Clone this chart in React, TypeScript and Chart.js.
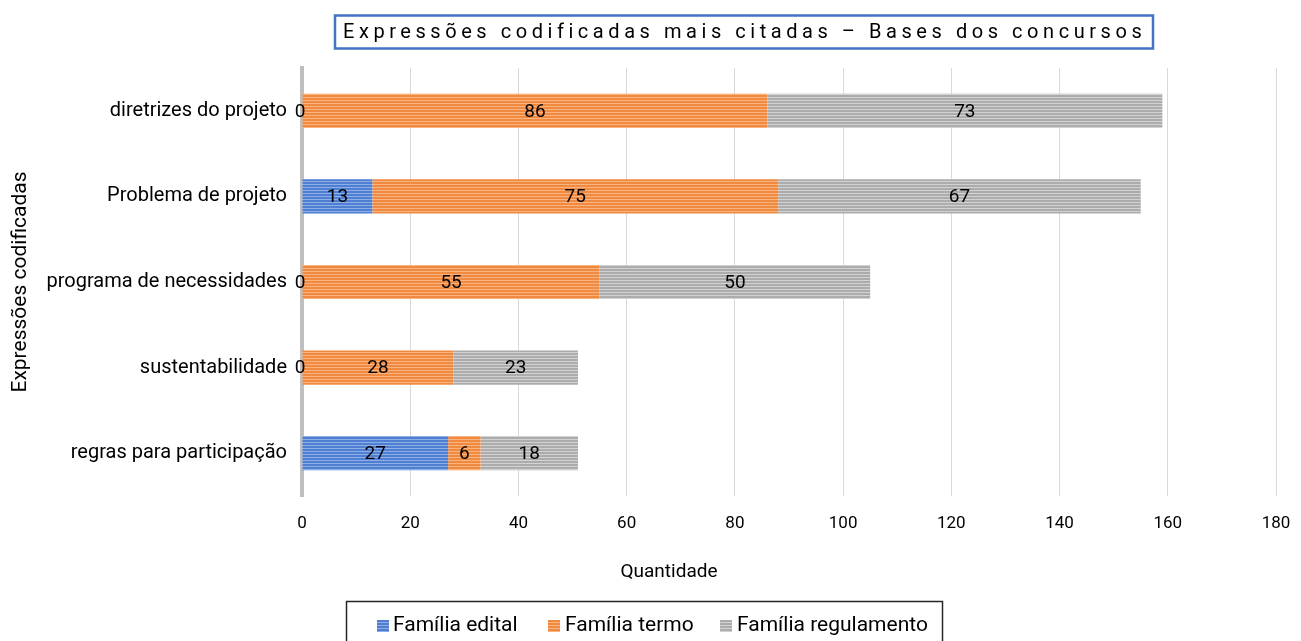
import React, { useEffect, useRef } from "react";
import { Chart, registerables } from "chart.js";

Chart.register(...registerables);

const categories = [
  "diretrizes do projeto",
  "Problema de projeto",
  "programa de necessidades",
  "sustentabilidade",
  "regras para participação",
];
const familiaEdital = [0, 13, 0, 0, 27];
const familiaTermo = [86, 75, 55, 28, 6];
const familiaRegulamento = [73, 67, 50, 23, 18];
const seriesNames = ["Família edital", "Família termo", "Família regulamento"];
const xTicks = [0, 20, 40, 60, 80, 100, 120, 140, 160, 180];

const chartTitle = "Expressões codificadas mais citadas – Bases dos concursos";
const xTitle = "Quantidade";
const yTitle = "Expressões codificadas";

const baseColors = ["#4f7fd3", "#f08a40", "#acacac"];
const lightColors = ["#8eaee6", "#f8b37f", "#d2d2d2"];

function makePattern(base: string, light: string): CanvasPattern | string {
  const c = document.createElement("canvas");
  c.width = 4;
  c.height = 3;
  const ctx = c.getContext("2d");
  if (!ctx) return base;
  ctx.fillStyle = base;
  ctx.fillRect(0, 0, 4, 3);
  ctx.fillStyle = light;
  ctx.fillRect(0, 1, 4, 1);
  const p = ctx.createPattern(c, "repeat");
  return p || base;
}

const FONT = "Roboto, 'Noto Sans', sans-serif";

const decorPlugin = {
  id: "decor",
  afterDatasetsDraw(chart: any) {
    const ctx = chart.ctx as CanvasRenderingContext2D;
    ctx.save();
    ctx.font = `19px ${FONT}`;
    ctx.fillStyle = "#000";
    ctx.textAlign = "center";
    ctx.textBaseline = "middle";
    chart.data.datasets.forEach((ds: any, di: number) => {
      const meta = chart.getDatasetMeta(di);
      meta.data.forEach((bar: any, i: number) => {
        const v = ds.data[i];
        const cx = v === 0 ? bar.base - 2 : (bar.x + bar.base) / 2;
        ctx.fillText(String(v), cx, bar.y + 1);
      });
    });
    ctx.restore();
  },
  afterDraw(chart: any) {
    const ctx = chart.ctx as CanvasRenderingContext2D;
    const area = chart.chartArea;
    ctx.save();
    // title box
    ctx.strokeStyle = "#4472c4";
    ctx.lineWidth = 2.5;
    ctx.strokeRect(335, 15.5, 818, 33);
    ctx.font = `20px ${FONT}`;
    ctx.fillStyle = "#000";
    ctx.textBaseline = "middle";
    ctx.textAlign = "left";
    (ctx as any).letterSpacing = "0px";
    const w0 = ctx.measureText(chartTitle).width;
    const n = Array.from(chartTitle).length;
    const target = 798;
    const sp = Math.max(0, (target - w0) / (n - 1));
    (ctx as any).letterSpacing = `${sp}px`;
    ctx.fillText(chartTitle, 343, 32.5);
    (ctx as any).letterSpacing = "0px";

    // axis titles
    ctx.font = `19px ${FONT}`;
    ctx.textAlign = "center";
    ctx.fillText(xTitle, 669, 572);
    ctx.save();
    ctx.font = `21px ${FONT}`;
    ctx.translate(21, (area.top + area.bottom) / 2);
    ctx.rotate(-Math.PI / 2);
    ctx.fillText(yTitle, 0, 0);
    ctx.restore();

    // legend box
    ctx.strokeStyle = "#262626";
    ctx.lineWidth = 1.5;
    ctx.strokeRect(346.5, 601.5, 596, 50);
    const sq = [377, 548, 720];
    const tx = [393, 565, 737];
    ctx.font = `21px ${FONT}`;
    ctx.textAlign = "left";
    chart.data.datasets.forEach((ds: any, i: number) => {
      ctx.fillStyle = ds.backgroundColor;
      ctx.fillRect(sq[i], 620, 12, 12);
      ctx.fillStyle = "#000";
      ctx.fillText(ds.label, tx[i], 626);
    });
    ctx.restore();
  },
};

export default function App() {
  const ref = useRef<HTMLCanvasElement | null>(null);
  useEffect(() => {
    if (!ref.current) return;
    const data = [familiaEdital, familiaTermo, familiaRegulamento];
    const chart = new Chart(ref.current, {
      type: "bar",
      data: {
        labels: categories,
        datasets: data.map((d, i) => ({
          label: seriesNames[i],
          data: d,
          backgroundColor: makePattern(baseColors[i], lightColors[i]) as any,
          borderWidth: 0,
          barPercentage: 0.4,
          categoryPercentage: 1,
        })),
      },
      options: {
        indexAxis: "y",
        animation: false,
        responsive: false,
        maintainAspectRatio: false,
        layout: { padding: { left: 0, right: 25, top: 68, bottom: 0 } },
        plugins: {
          legend: { display: false },
          title: { display: false },
          tooltip: { enabled: false },
        },
        scales: {
          x: {
            stacked: true,
            min: 0,
            max: 180,
            afterFit(scale: any) {
              scale.height = 145;
              scale.paddingLeft = 0;
              scale.paddingRight = 0;
            },
            afterBuildTicks(scale: any) {
              scale.ticks = xTicks.map((v) => ({ value: v }));
            },
            grid: { color: "#d9d9d9", lineWidth: 1, drawTicks: false },
            border: { display: false },
            ticks: {
              font: { family: FONT, size: 17 },
              color: "#000",
              padding: 18,
            },
          },
          y: {
            stacked: true,
            afterFit(scale: any) {
              scale.width = 302;
              scale.paddingTop = 0;
              scale.paddingBottom = 0;
            },
            grid: { display: false, drawTicks: false },
            border: { display: true, color: "#bfbfbf", width: 4 },
            ticks: {
              font: { family: FONT, size: 20 },
              color: "#000",
              padding: 15,
            },
          },
        },
      },
      plugins: [decorPlugin],
    });
    return () => chart.destroy();
  }, []);
  return (
    <div style={{ position: "fixed", left: 0, top: 0, width: 1301, height: 641, background: "#fff" }}>
      <canvas ref={ref} width={1301} height={641} style={{ width: 1301, height: 641 }} />
    </div>
  );
}
